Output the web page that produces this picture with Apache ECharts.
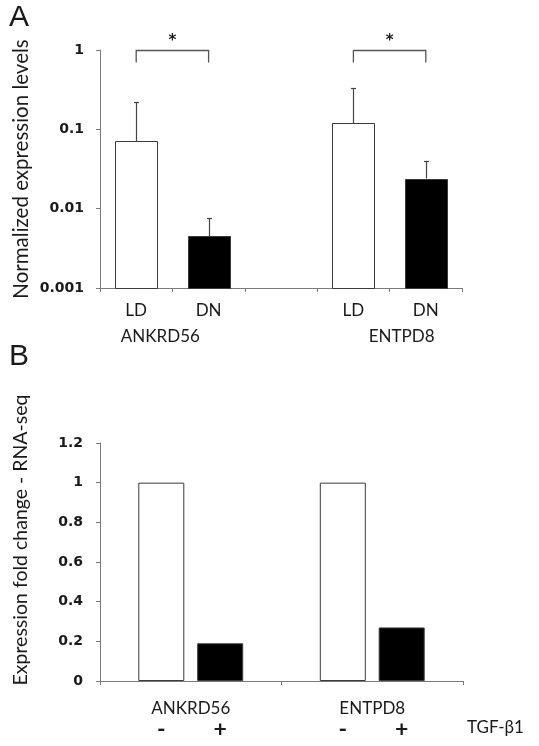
<!DOCTYPE html>
<html>
<head>
<meta charset="utf-8">
<script src="https://cdn.jsdelivr.net/npm/echarts@6/dist/echarts.min.js"></script>
<style>html,body{margin:0;padding:0;background:#fff;}#c{width:539px;height:746px;}</style>
</head>
<body>
<div id="c"></div>
<script>
// ---------- Panel A data ----------
const aCategories = ['LD', 'DN', '', 'LD', 'DN'];
const aGenes = ['ANKRD56', '', 'ENTPD8'];
const aMeans = [0.071, 0.0045, null, 0.12, 0.024];
const aErrTop = [0.22, 0.0076, null, 0.33, 0.040];
const aYTicks = [0.001, 0.01, 0.1, 1];
const aSigPairs = [[0, 1], [3, 4]];
const aSigMarks = ['*', '*'];
const aYTitle = 'Normalized expression levels';

// ---------- Panel B data ----------
const bGenes = ['ANKRD56', 'ENTPD8'];
const bControl = [1, 1];
const bTGF = [0.19, 0.27];
const bTreatSigns = ['-', '+'];
const bTreatName = 'TGF-β1';
const bYTicks = [0, 0.2, 0.4, 0.6, 0.8, 1, 1.2];
const bYTitle = 'Expression fold change - RNA-seq';

const fillFor = { LD: '#ffffff', DN: '#000000' };
const TXT = '#1a1a1a';
const AX = '#7a7a7a';
const labFont = 'Lato, "Open Sans", sans-serif';
const tickFont = '"DejaVu Sans", Verdana, sans-serif';

const chart = echarts.init(document.getElementById('c'), null, { renderer: 'canvas' });

const barsA = aMeans.map((v, i) => v == null ? null : [i, v]).filter(d => d);
const errA = aMeans.map((v, i) => v == null ? null : [i, v, aErrTop[i]]).filter(d => d);
const bracketA = aSigPairs.map((p, k) => [p[0], 1, p[1], k]);

function bandW(api) { return api.coord([1, 1])[0] - api.coord([0, 1])[0]; }

const option = {
  animation: false,
  backgroundColor: '#ffffff',
  grid: [
    { left: 100, top: 50, width: 362, height: 238 },
    { left: 100, top: 443, width: 363, height: 238 }
  ],
  xAxis: [
    {
      gridIndex: 0, type: 'category', data: aCategories,
      axisLine: { lineStyle: { color: AX, width: 1 } },
      axisTick: { show: true, length: 4, lineStyle: { color: AX } },
      axisLabel: { margin: 14, color: TXT, fontFamily: labFont, fontSize: 17 }
    },
    {
      gridIndex: 0, type: 'category', data: aGenes, position: 'bottom',
      axisLine: { show: false }, axisTick: { show: false },
      axisLabel: { margin: 40, color: TXT, fontFamily: labFont, fontSize: 17 }
    },
    {
      gridIndex: 1, type: 'category', data: bGenes,
      axisLine: { lineStyle: { color: AX, width: 1 } },
      axisTick: { show: true, length: 4, lineStyle: { color: AX } },
      axisLabel: { margin: 19, color: TXT, fontFamily: labFont, fontSize: 17 }
    }
  ],
  yAxis: [
    {
      gridIndex: 0, type: 'log', logBase: 10, min: aYTicks[0], max: aYTicks[aYTicks.length - 1],
      splitLine: { show: false },
      axisLine: { show: true, lineStyle: { color: AX, width: 1 } },
      axisTick: { show: true, length: 4, lineStyle: { color: AX } },
      axisLabel: { margin: 16, color: TXT, fontFamily: tickFont, fontSize: 14, fontWeight: 'bold',
        formatter: v => String(+v.toPrecision(3)) }
    },
    {
      gridIndex: 1, type: 'value', min: bYTicks[0], max: bYTicks[bYTicks.length - 1], interval: 0.2,
      splitLine: { show: false },
      axisLine: { show: true, lineStyle: { color: AX, width: 1 } },
      axisTick: { show: true, length: 4, lineStyle: { color: AX } },
      axisLabel: { margin: 17, color: TXT, fontFamily: tickFont, fontSize: 14, fontWeight: 'bold',
        formatter: v => String(+v.toFixed(1)) }
    }
  ],
  series: [
    {
      type: 'custom', xAxisIndex: 0, yAxisIndex: 0, data: barsA,
      renderItem: function (params, api) {
        const i = api.value(0), v = api.value(1);
        const top = api.coord([i, v]);
        const base = api.coord([i, aYTicks[0]]);
        const w = bandW(api) * 0.58;
        return {
          type: 'rect',
          shape: { x: Math.round(top[0] - w / 2) + 0.5, y: Math.round(top[1]) + 0.5, width: Math.round(w), height: Math.round(base[1] - top[1]) },
          style: { fill: fillFor[aCategories[i]], stroke: '#3a3a3a', lineWidth: 1 }
        };
      }
    },
    {
      type: 'custom', xAxisIndex: 0, yAxisIndex: 0, data: errA, clip: false,
      encode: { x: 0, y: [1, 2] },
      renderItem: function (params, api) {
        const i = api.value(0);
        const p0 = api.coord([i, api.value(1)]);
        const p1 = api.coord([i, api.value(2)]);
        const x = Math.round(p0[0]) + 0.5;
        return {
          type: 'group', children: [
            { type: 'line', shape: { x1: x, y1: p0[1], x2: x, y2: p1[1] }, style: { stroke: '#444', lineWidth: 1.2 } },
            { type: 'line', shape: { x1: x - 2.5, y1: Math.round(p1[1]) + 0.5, x2: x + 2.5, y2: Math.round(p1[1]) + 0.5 }, style: { stroke: '#444', lineWidth: 1.2 } }
          ]
        };
      }
    },
    {
      type: 'custom', xAxisIndex: 0, yAxisIndex: 0, data: bracketA, clip: false,
      encode: { x: [0, 2], y: 1 },
      renderItem: function (params, api) {
        const a = api.coord([api.value(0), api.value(1)]);
        const b = api.coord([api.value(2), api.value(1)]);
        const yTop = Math.round(a[1]) + 0.5;
        const drop = 12;
        return {
          type: 'group', children: [
            { type: 'polyline', shape: { points: [[a[0], yTop + drop], [a[0], yTop], [b[0], yTop], [b[0], yTop + drop]] },
              style: { stroke: '#555', lineWidth: 1.3, fill: null } },
            { type: 'text', x: (a[0] + b[0]) / 2, y: yTop - 9,
              style: { text: aSigMarks[api.value(3)], fill: TXT, font: 'bold 15px "DejaVu Sans", sans-serif', align: 'center', verticalAlign: 'middle' } }
          ]
        };
      }
    },
    {
      type: 'bar', xAxisIndex: 2, yAxisIndex: 1, data: bControl,
      barWidth: 46, barGap: '28%',
      itemStyle: { color: '#ffffff', borderColor: '#3a3a3a', borderWidth: 1 },
      label: { show: true, position: 'bottom', distance: 37, formatter: () => bTreatSigns[0],
        color: TXT, fontFamily: labFont, fontSize: 23, fontWeight: 'bold' }
    },
    {
      type: 'bar', xAxisIndex: 2, yAxisIndex: 1, data: bTGF,
      barWidth: 46, barGap: '28%',
      itemStyle: { color: '#000000', borderColor: '#3a3a3a', borderWidth: 1 },
      label: { show: true, position: 'bottom', distance: 37, formatter: () => bTreatSigns[1],
        color: TXT, fontFamily: labFont, fontSize: 23, fontWeight: 'bold' }
    }
  ],
  graphic: [
    { type: 'text', left: 9, top: 3, style: { text: 'A', fill: TXT, font: '30px "Liberation Sans", Arial, sans-serif' } },
    { type: 'text', left: 9, top: 342, style: { text: 'B', fill: TXT, font: '30px "Liberation Sans", Arial, sans-serif' } },
    { type: 'text', x: 21, y: 169, rotation: Math.PI / 2,
      style: { text: aYTitle, fill: TXT, font: '20.5px Lato, sans-serif', align: 'center', verticalAlign: 'middle' } },
    { type: 'text', x: 21, y: 540, rotation: Math.PI / 2,
      style: { text: bYTitle, fill: TXT, font: '19.5px Lato, sans-serif', align: 'center', verticalAlign: 'middle' } },
    { type: 'text', x: 467, y: 728,
      style: { text: bTreatName, fill: TXT, font: '17px Lato, sans-serif', align: 'left', verticalAlign: 'middle' } }
  ]
};
chart.setOption(option);
</script>
</body>
</html>
